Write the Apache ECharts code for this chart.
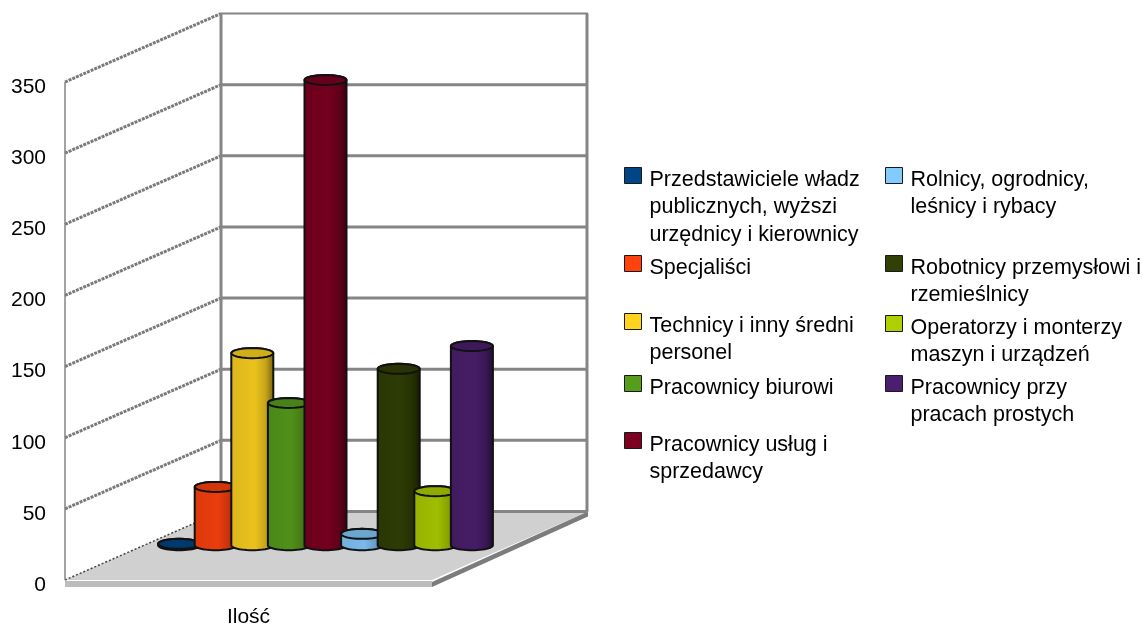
<!DOCTYPE html>
<html>
<head>
<meta charset="utf-8">
<script src="https://cdn.jsdelivr.net/npm/echarts@6/dist/echarts.min.js"></script>
<style>html,body{margin:0;padding:0;background:#fff}#c{width:1148px;height:626px}</style>
</head>
<body>
<div id="c"></div>
<script>
var categories = ['Ilość'];
var yTicks = [0, 50, 100, 150, 200, 250, 300, 350];
var seriesNames = [
  'Przedstawiciele władz\npublicznych, wyższi\nurzędnicy i kierownicy',
  'Specjaliści',
  'Technicy i inny średni\npersonel',
  'Pracownicy biurowi',
  'Pracownicy usług i\nsprzedawcy',
  'Rolnicy, ogrodnicy,\nleśnicy i rybacy',
  'Robotnicy przemysłowi i\nrzemieślnicy',
  'Operatorzy i monterzy\nmaszyn i urządzeń',
  'Pracownicy przy\npracach prostych'
];
var seriesValues = [1, 41, 135, 100, 327, 8, 124, 38, 140];
var seriesColors = ['#004586','#ff420e','#ffd320','#579d1c','#7e0021','#83caff','#314004','#aecf00','#4b1f6f'];

// layout of the legend: [symbol left, y of the first text line]
var legendSlots = [[624,180],[624,268],[624,326],[624,388],[624,445],[885,180],[885,268],[885,328],[885,388]];

var DX = 156, DY = -68.5, BAR_STEP = 36.6, RX = 21, RY = 5, LH = 27.5, PAD = 9;
var GRID = '#858585';

function shade(hex, k) {
  var n = parseInt(hex.slice(1), 16);
  var f = function (v) { return Math.min(255, Math.round(v * k)); };
  return 'rgb(' + f(n >> 16) + ',' + f((n >> 8) & 255) + ',' + f(n & 255) + ')';
}
function arc(cx, cy, from, to) {
  var pts = [];
  for (var i = 0; i <= 24; i++) {
    var t = from + (to - from) * i / 24;
    pts.push([cx + RX * Math.cos(t), cy + RY * Math.sin(t)]);
  }
  return pts;
}
function line(x1, y1, x2, y2, w, color, dash) {
  return { type: 'line', shape: { x1: x1, y1: y1, x2: x2, y2: y2 },
    style: { stroke: color, lineWidth: w, lineDash: dash || null } };
}
function renderFrame(params, api) {
  var cs = params.coordSys;
  var x0 = cs.x, x1 = cs.x + cs.width;
  var y0 = api.coord([0, 0])[1];
  var yT = api.coord([0, yTicks[yTicks.length - 1]])[1];
  var kids = [];
  // floor
  kids.push({ type: 'polygon', shape: { points: [[x0, y0], [x0 + DX, y0 + DY], [x1 + DX, y0 + DY], [x1, y0]] },
    style: { fill: '#d0d0d0' } });
  kids.push({ type: 'polygon', shape: { points: [[x0, y0 + 1], [x1, y0 + 1], [x1, y0 + 7], [x0, y0 + 7]] },
    style: { fill: '#bcbcbc' } });
  kids.push({ type: 'polygon', shape: { points: [[x1, y0 + 2], [x1 + DX, y0 + DY], [x1 + DX, y0 + DY + 5], [x1, y0 + 7]] },
    style: { fill: '#7c7c7c' } });
  // walls and grid
  yTicks.forEach(function (t) {
    var y = api.coord([0, t])[1];
    if (t > 0) kids.push(line(x0, y, x0 + DX, y + DY, 3, '#7a7a7a', [3, 1]));
    else kids.push(line(x0, y, x0 + DX, y + DY, 1.5, '#444', [2, 2]));
    kids.push(line(x0 + DX, y + DY, x1 + DX, y + DY, t === 350 ? 2 : 3, GRID));
  });
  kids.push(line(x0, yT, x0, y0, 1.5, GRID));
  kids.push(line(x0 + DX, yT + DY, x0 + DX, y0 + DY, 3, GRID));
  kids.push(line(x1 + DX - 1, yT + DY, x1 + DX - 1, y0 + DY, 3, GRID));
  return { type: 'group', children: kids };
}
function makeBar(i) {
  return function (params, api) {
    var top = api.coord([api.value(0), api.value(1)]);
    var base = api.coord([api.value(0), 0]);
    var cx = base[0] + DX / 2 - 1 + (i - 4) * BAR_STEP;
    var yBase = base[1] + DY / 2 - 0.5, yTop = top[1] + DY / 2 - 0.5;
    var c = seriesColors[i];
    var body = arc(cx, yBase, Math.PI, 0).concat(arc(cx, yTop, 0, -Math.PI));
    var grad = { type: 'linear', x: 0, y: 0, x2: 1, y2: 0, colorStops: [
      { offset: 0, color: shade(c, 0.86) }, { offset: 0.55, color: shade(c, 0.92) },
      { offset: 0.8, color: shade(c, 0.78) }, { offset: 1, color: shade(c, 0.45) }] };
    return { type: 'group', children: [
      { type: 'polygon', shape: { points: body },
        style: { fill: grad, stroke: '#111', lineWidth: 2, lineJoin: 'round' } },
      { type: 'polygon', shape: { points: arc(cx, yTop, 0, Math.PI * 2) },
        style: { fill: shade(c, 0.82), stroke: '#111', lineWidth: 2 } }
    ] };
  };
}

var series = [{
  type: 'custom', silent: true, renderItem: renderFrame, data: [[0, 0]],
  encode: { x: 0, y: 1 }, clip: false, z: 1, tooltip: { show: false }
}];
seriesNames.forEach(function (name, i) {
  series.push({
    type: 'custom', name: name, renderItem: makeBar(i), clip: false, z: 2,
    itemStyle: { color: seriesColors[i] },
    encode: { x: 0, y: 1 }, data: [[0, seriesValues[i]]]
  });
});

var legends = seriesNames.map(function (name, i) {
  var lines = name.split('\n');
  var n = lines.length;
  var h = (2 * n - 1) * LH + PAD;
  var symbolY = legendSlots[i][1] - PAD / 2;
  return {
    left: legendSlots[i][0], top: symbolY - h / 2, padding: 0, orient: 'vertical',
    itemWidth: 17, itemHeight: 16, itemGap: 0, selectedMode: false,
    icon: 'rect', data: [name],
    itemStyle: { borderColor: '#1a1a1a', borderWidth: 1 },
    formatter: function () {
      var out = ['{g| }'];
      for (var k = 1; k < n; k++) out.push('{t| }');
      return out.concat(lines.map(function (l) { return '{t|' + l + '}'; })).join('\n');
    },
    textStyle: {
      fontFamily: 'Liberation Sans', fontSize: 21.5, color: '#000',
      rich: {
        g: { fontSize: 1, lineHeight: PAD, height: PAD },
        t: { fontFamily: 'Liberation Sans', fontSize: 21.5, color: '#000', lineHeight: LH, padding: [0, 0, 0, 3] }
      }
    }
  };
});

var chart = echarts.init(document.getElementById('c'), null, { renderer: 'canvas' });
chart.setOption({
  animation: false,
  backgroundColor: '#fff',
  grid: { left: 65, top: 82, width: 367, height: 498, outerBoundsMode: 'none' },
  legend: legends,
  xAxis: {
    type: 'category', data: categories,
    axisLine: { show: false }, axisTick: { show: false },
    axisLabel: { margin: 27, fontFamily: 'Liberation Sans', fontSize: 21, color: '#000' }
  },
  yAxis: {
    type: 'value', min: 0, max: 350, interval: 50,
    axisLine: { show: false }, axisTick: { show: false }, splitLine: { show: false },
    axisLabel: { margin: 19, fontFamily: 'Liberation Sans', fontSize: 21, color: '#000', verticalAlign: 'top', lineHeight: 10 }
  },
  series: series
});
</script>
</body>
</html>
